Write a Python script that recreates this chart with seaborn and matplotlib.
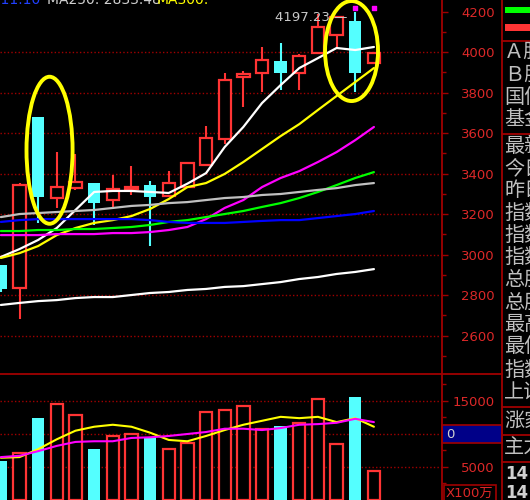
import matplotlib
matplotlib.use("Agg")
import matplotlib.pyplot as plt
from matplotlib.patches import Ellipse, Rectangle
import numpy as np
import pandas as pd
import seaborn as sns

# ---------------------------------------------------------------
# data
# ---------------------------------------------------------------
opens = [2948, 2835, 3679, 3279, 3328, 3353, 3269, 3323, 3343, 3289, 3333,
         3442, 3570, 3877, 3896, 3956, 3896, 3995, 4084, 4153, 3946]
closes = [2830, 3343, 3284, 3333, 3358, 3254, 3323, 3333, 3284, 3353, 3452,
          3575, 3862, 3891, 3960, 3896, 3980, 4123, 4173, 3896, 3995]
highs = [2950, 3353, 3679, 3506, 3496, 3353, 3393, 3437, 3363, 3412, 3457,
         3635, 3896, 3906, 4025, 4044, 3990, 4190, 4180, 4197, 3998]
lows = [2815, 2681, 3156, 3230, 3319, 3146, 3230, 3294, 3042, 3284, 3328,
        3437, 3546, 3728, 3802, 3812, 3812, 3990, 4020, 3802, 3940]
volume = [5900, 7100, 12400, 14500, 12900, 7700, 9700, 10000, 9500, 7700, 8600,
          13300, 13600, 14300, 10700, 11200, 11700, 15300, 8500, 15600, 4400]

ma5 = [2988, 3027, 3072, 3131, 3220, 3309, 3314, 3314, 3309, 3304, 3350,
       3402, 3531, 3630, 3748, 3837, 3921, 3970, 4020, 4010, 4025]
ma10 = [2983, 3007, 3042, 3096, 3131, 3156, 3170, 3190, 3225, 3274, 3333,
        3353, 3398, 3457, 3521, 3585, 3644, 3714, 3783, 3852, 3921]
ma20 = [3096, 3096, 3096, 3101, 3101, 3101, 3106, 3106, 3111, 3121, 3136,
        3175, 3230, 3269, 3333, 3378, 3412, 3457, 3506, 3565, 3630]
ma30 = [3116, 3116, 3121, 3121, 3126, 3126, 3131, 3136, 3146, 3161, 3170,
        3185, 3200, 3215, 3235, 3254, 3279, 3309, 3343, 3378, 3407]
ma60 = [3185, 3200, 3205, 3210, 3215, 3220, 3230, 3240, 3245, 3254, 3259,
        3269, 3279, 3284, 3294, 3299, 3309, 3319, 3328, 3343, 3353]
ma120 = [3161, 3170, 3175, 3175, 3175, 3175, 3175, 3175, 3170, 3161, 3156,
         3156, 3156, 3161, 3166, 3170, 3170, 3180, 3190, 3200, 3215]
ma250 = [2751, 2761, 2770, 2775, 2785, 2790, 2790, 2800, 2810, 2815, 2825,
         2830, 2840, 2844, 2854, 2864, 2879, 2889, 2904, 2914, 2928]

vol_ma5 = [6400, 6500, 7700, 9200, 10500, 11100, 11400, 11100, 10200, 9100, 8900,
           9700, 10600, 11400, 12000, 12600, 12400, 12600, 11800, 12400, 11100]
vol_ma10 = [6500, 6700, 7400, 8200, 8800, 8900, 8900, 9400, 9500, 9700, 10000,
            10300, 10800, 10800, 10600, 10900, 11400, 11500, 11700, 12300, 11800]

price_ticks = [2600, 2800, 3000, 3200, 3400, 3600, 3800, 4000, 4200]
vol_ticks = [5000, 10000, 15000]
vol_tick_labels = ["5000", "", "15000"]
high_label = "4197.23"
top_marks_idx = [19, 20]
top_marks_price = [4217, 4217]

side_labels = ["Ａ股", "Ｂ股", "国债", "基金", "最新", "今日", "昨日", "指数", "指数",
               "指数", "总股", "总股", "最高", "最低", "指数", "上证", "涨家", "主力"]
side_label_y = [52, 75, 97, 119, 147, 169, 191, 213, 235, 257, 280, 303, 325,
                347, 370, 392, 421, 448]

# ---------------------------------------------------------------
# colours
# ---------------------------------------------------------------
RED = "#ff3434"
CYAN = "#54ffff"
DARKRED = "#a00000"
LABEL = "#dc2828"
ma_colors = {"ma5": "#ffffff", "ma10": "#ffff00", "ma20": "#ff00ff",
             "ma30": "#00ff00", "ma60": "#c0c0c0", "ma120": "#0000ff",
             "ma250": "#ffffff"}

sns.set_style("dark", {"axes.facecolor": "black", "figure.facecolor": "black"})
plt.rcParams["font.family"] = ["DejaVu Sans", "Noto Sans CJK SC"]

W, H = 530, 500
fig = plt.figure(figsize=(W / 100, H / 100), dpi=100, facecolor="black")
ax_p = fig.add_axes([0, 126 / H, 442 / W, 374 / H])
ax_v = fig.add_axes([0, 0, 442 / W, 126 / H])

idx = np.arange(len(opens))
o = np.array(opens)
c = np.array(closes)
up = c >= o
body_w = 0.66

for ax in (ax_p, ax_v):
    ax.set_facecolor("black")
    for s in ax.spines.values():
        s.set_visible(False)
    ax.set_xticks([])
    ax.grid(False)

# ---------------- candles ----------------
lo_body = np.minimum(o, c)
hi_body = np.maximum(o, c)
ax_p.vlines(idx[up], np.array(highs)[up], hi_body[up], color=RED, lw=1.5, zorder=2)
ax_p.vlines(idx[up], lo_body[up], np.array(lows)[up], color=RED, lw=1.5, zorder=2)
ax_p.bar(idx[up], np.maximum(hi_body[up] - lo_body[up], 3), bottom=lo_body[up],
         width=body_w, facecolor="black", edgecolor=RED, linewidth=1.6, zorder=2)
ax_p.vlines(idx[~up], np.array(highs)[~up], np.array(lows)[~up], color=CYAN, lw=1.5, zorder=2)
ax_p.bar(idx[~up], hi_body[~up] - lo_body[~up], bottom=lo_body[~up],
         width=body_w, color=CYAN, linewidth=0, zorder=2)

# ---------------- moving averages ----------------
ma_df = pd.DataFrame({"idx": np.tile(idx, 7),
                      "value": ma5 + ma10 + ma20 + ma30 + ma60 + ma120 + ma250,
                      "ma": np.repeat(list(ma_colors.keys()), len(idx))})
sns.lineplot(data=ma_df, x="idx", y="value", hue="ma", palette=ma_colors,
             units="ma", estimator=None, legend=False, linewidth=1.6, ax=ax_p, zorder=3)
ax_p.scatter(top_marks_idx, top_marks_price, marker="s", s=6, color="#ff00ff", zorder=4)

for lv in price_ticks[:-1]:
    ax_p.axhline(lv, color=DARKRED, lw=1.0, ls=(0, (1, 1.6)), zorder=1)

# annotation ellipses
ax_p.add_patch(Ellipse((2.61, 3515), 2.47, 726, fill=False, ec="#ffff00", lw=2.8, zorder=5))
ax_p.add_patch(Ellipse((18.8, 4005), 2.84, 494, fill=False, ec="#ffff00", lw=2.8, zorder=5))
ax_p.text(14.7, 4172, high_label + " —", color="#c8c8c8", fontsize=9.5,
          va="center", ha="left", zorder=6)

# ---------------- volume ----------------
vol = np.array(volume)
ax_v.bar(idx[up], vol[up], width=body_w, facecolor="black", edgecolor=RED,
         linewidth=1.6, zorder=2)
ax_v.bar(idx[~up], vol[~up], width=body_w, color=CYAN, linewidth=0, zorder=2)
vdf = pd.DataFrame({"idx": np.tile(idx, 2), "value": vol_ma5 + vol_ma10,
                    "ma": np.repeat(["v5", "v10"], len(idx))})
sns.lineplot(data=vdf, x="idx", y="value", hue="ma",
             palette={"v5": "#ffff00", "v10": "#ff00ff"}, units="ma",
             estimator=None, legend=False, linewidth=1.5, ax=ax_v, zorder=3)
for lv in vol_ticks:
    ax_v.axhline(lv, color=DARKRED, lw=1.0, ls=(0, (1, 1.6)), zorder=1)

# ---------------- right side tick labels ----------------
for ax, ticks, labels, minor in ((ax_p, price_ticks, [str(t) for t in price_ticks], 100),
                                 (ax_v, vol_ticks, vol_tick_labels, 2500)):
    ax.yaxis.tick_right()
    ax.set_yticks(ticks)
    ax.set_yticklabels(labels)
    ax.set_yticks(np.arange(ticks[0] - minor, ticks[-1] + 2 * minor, minor * 2), minor=True)
    ax.tick_params(axis="y", which="major", direction="out", length=4.3, width=1,
                   color=DARKRED, labelcolor=LABEL, labelsize=9.5, pad=33.5)
    ax.tick_params(axis="y", which="minor", direction="out", length=3, width=1,
                   color=DARKRED)
    for t in ax.get_yticklabels():
        t.set_horizontalalignment("right")
    ax.set_ylabel("")
    ax.set_xlabel("")

# limits last, set_yticks can widen them
ax_p.set_xlim(-0.046, 23.65)
ax_v.set_xlim(-0.046, 23.65)
ax_p.set_ylim(2410, 4257)
ax_v.set_ylim(0, 19090)

# ---------------- overlay in pixel coordinates ----------------
ov = fig.add_axes([0, 0, 1, 1], zorder=10)
ov.set_xlim(0, W)
ov.set_ylim(H, 0)
ov.axis("off")
ov.patch.set_alpha(0)

ov.plot([442, 442], [0, H], color=DARKRED, lw=1.3)
ov.plot([502, 502], [0, H], color=DARKRED, lw=1.3)
ov.plot([0, 502], [374, 374], color=DARKRED, lw=1.3)
for yy in (41, 134, 407, 435, 462):
    ov.plot([502, W], [yy, yy], color=DARKRED, lw=1.3)

ov.add_patch(Rectangle((442, 425), 60, 18, facecolor="#000088", edgecolor=DARKRED, lw=1.2))
ov.text(446, 434, "0", color="#d0d0d0", fontsize=9.5, va="center", ha="left")
ov.add_patch(Rectangle((443.5, 485), 52, 16, facecolor="black", edgecolor=DARKRED, lw=1.2))
ov.text(446, 493, "X100万", color=LABEL, fontsize=9.5, va="center", ha="left")

ov.add_patch(Rectangle((505, 7), 30, 6, facecolor="#00ff00", lw=0))
ov.add_patch(Rectangle((505, 24), 30, 7, facecolor="#ff3434", lw=0))

for lab, yy in zip(side_labels, side_label_y):
    ov.text(504, yy, lab, color="#c0c0c0", fontsize=14.5, va="center", ha="left",
            family=["Noto Sans CJK SC", "DejaVu Sans"])
for yy in (474, 493):
    ov.text(505, yy, "14:59", color="#d0d0d0", fontsize=12, fontweight="bold",
            va="center", ha="left")

# header row, cut at the top edge
ov.text(40, 0, "MA120: 2911.10", color="#2040ff", fontsize=10, va="center", ha="right")
ov.text(47, 0, "MA250: 2833.48", color="#d0d0d0", fontsize=10, va="center", ha="left")
ov.text(157, 0, "MA300:", color="#ffff00", fontsize=10, va="center", ha="left")

fig.savefig("out.png", dpi=100, facecolor="black")
